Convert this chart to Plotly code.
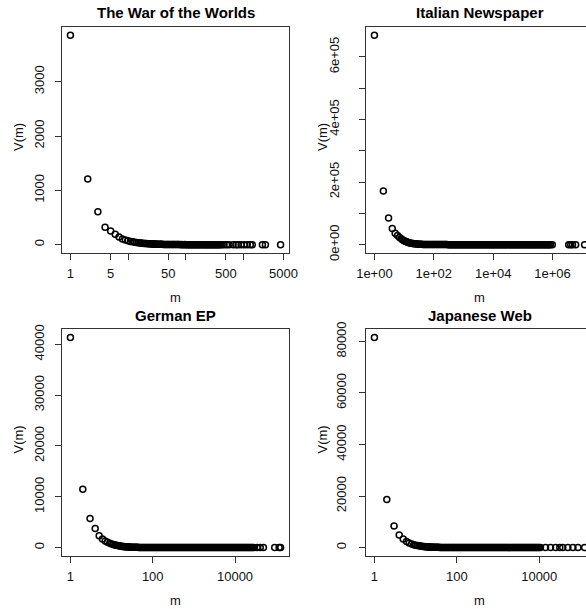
import math
import plotly.graph_objects as go

W, H = 586, 609

# ---------------- data (frequency spectra: m = frequency, V(m) = number of types) -------------
wotw_m = [1, 2, 3, 4, 5, 6, 7, 8, 9, 10,
          11, 12, 13, 14, 15, 16, 17, 18, 19, 20,
          21, 22, 23, 24, 25, 26, 27, 28, 29, 30,
          31, 32, 33, 35, 36, 38, 39, 41, 43, 45,
          47, 49, 51, 53, 56, 58, 61, 63, 66, 69,
          72, 75, 79, 82, 86, 90, 94, 98, 102, 107,
          112, 117, 122, 127, 133, 139, 145, 152, 159, 166,
          173, 181, 189, 198, 207, 216, 226, 236, 246, 257,
          269, 281, 294, 307, 321, 335, 350, 366, 382, 399,
          428, 464, 514, 568, 668, 754, 817, 922, 1042, 1175,
          1327, 1439, 2153, 2430, 4460]
wotw_v = [3852, 1211, 605, 322, 253, 190, 140, 105, 88, 72,
          60, 52, 45, 40, 36, 33, 30, 26, 24, 22,
          21, 19, 17, 16, 15, 13, 12, 11, 11, 10,
          9, 9, 8, 7, 7, 6, 6, 5, 5, 4,
          4, 4, 3, 3, 3, 3, 2, 3, 2, 2,
          2, 2, 2, 1, 2, 1, 1, 2, 1, 1,
          1, 1, 1, 1, 1, 1, 1, 1, 1, 1,
          1, 1, 1, 1, 1, 1, 1, 1, 1, 1,
          1, 1, 1, 1, 1, 1, 1, 1, 1, 1,
          1, 1, 1, 1, 1, 1, 1, 1, 1, 1,
          1, 1, 1, 1, 1]

ital_m = [1, 2, 3, 4, 5, 6, 7, 8, 9, 10,
          11, 12, 13, 14, 15, 16, 17, 19, 20, 22,
          24, 26, 28, 31, 33, 36, 39, 43, 47, 51,
          55, 60, 66, 71, 78, 85, 92, 100, 109, 119,
          130, 141, 154, 168, 183, 199, 217, 236, 257, 280,
          305, 332, 362, 394, 429, 467, 509, 554, 603, 657,
          715, 779, 848, 924, 1006, 1095, 1193, 1299, 1415, 1541,
          1678, 1827, 1990, 2167, 2360, 2570, 2798, 3047, 3318, 3614,
          3935, 4286, 4667, 5082, 5535, 6027, 6564, 7148, 7784, 8477,
          9231, 10050, 10950, 11920, 12980, 14140, 15400, 16770, 18260, 19880,
          21650, 23580, 25680, 27960, 30450, 33160, 36110, 39320, 42820, 46630,
          50780, 55300, 60220, 65580, 71420, 77780, 84700, 92240, 100400, 109400,
          119100, 129700, 141300, 153800, 167500, 182400, 198700, 216400, 235600, 256600,
          279400, 304300, 331400, 360900, 393000, 428000, 466100, 507600, 552700, 601900,
          655500, 713800, 777400, 846600, 980000, 3500000, 4100000, 4700000, 6000000, 12000000]
ital_v = [668800, 171700, 84900, 51400, 36700, 28900, 23000, 18500, 15000, 12500,
          10500, 9000, 7800, 6800, 6000, 5300, 4800, 3900, 3500, 2900,
          2450, 2100, 1850, 1500, 1300, 1100, 950, 780, 650, 560,
          480, 410, 340, 290, 240, 200, 170, 150, 125, 104,
          86, 72, 60, 50, 42, 35, 29, 24, 20, 17,
          14, 12, 10, 8, 7, 6, 5, 4, 4, 3,
          3, 2, 2, 2, 2, 1, 2, 1, 1, 1,
          1, 1, 1, 1, 1, 1, 1, 1, 1, 1,
          1, 1, 1, 1, 1, 1, 1, 1, 1, 1,
          1, 1, 1, 1, 1, 1, 1, 1, 1, 1,
          1, 1, 1, 1, 1, 1, 1, 1, 1, 1,
          1, 1, 1, 1, 1, 1, 1, 1, 1, 1,
          1, 1, 1, 1, 1, 1, 1, 1, 1, 1,
          1, 1, 1, 1, 1, 1, 1, 1, 1, 1,
          1, 1, 1, 1, 1, 1, 1, 1, 1, 1]

ger_m = [1, 2, 3, 4, 5, 6, 7, 8, 9, 10,
         11, 12, 13, 14, 15, 16, 17, 18, 19, 20,
         21, 22, 24, 25, 27, 28, 30, 32, 34, 36,
         38, 41, 43, 46, 49, 52, 55, 59, 62, 66,
         71, 75, 80, 85, 90, 96, 102, 109, 116, 123,
         131, 139, 148, 157, 167, 178, 189, 201, 214, 228,
         242, 258, 274, 292, 310, 330, 351, 373, 397, 423,
         450, 478, 509, 541, 576, 613, 652, 693, 738, 785,
         835, 888, 945, 1005, 1069, 1138, 1210, 1288, 1370, 1457,
         1550, 1649, 1755, 1867, 1986, 2113, 2248, 2391, 2544, 2707,
         2880, 3064, 3259, 3468, 3689, 3925, 4175, 4442, 4726, 5028,
         5349, 5690, 6054, 6440, 6852, 7289, 7755, 8250, 8777, 9337,
         9934, 10570, 11240, 11960, 12720, 13540, 14400, 15320, 16300, 17340,
         18450, 19630, 20880, 22210, 23630, 25140, 26750, 28460, 34500, 41000,
         49000, 92000, 118000, 128000]
ger_v = [41350, 11470, 5700, 3780, 2330, 1680, 1300, 1050, 860, 720,
         610, 520, 450, 390, 345, 305, 270, 240, 215, 195,
         180, 165, 140, 130, 112, 105, 92, 82, 72, 64,
         57, 50, 46, 40, 36, 32, 29, 26, 23, 21,
         18, 16, 15, 13, 12, 11, 10, 9, 8, 7,
         7, 6, 6, 5, 5, 4, 4, 4, 3, 3,
         3, 3, 2, 2, 2, 2, 2, 2, 2, 1,
         2, 1, 1, 2, 1, 1, 1, 1, 1, 1,
         1, 1, 1, 1, 1, 1, 1, 1, 1, 1,
         1, 1, 1, 1, 1, 1, 1, 1, 1, 1,
         1, 1, 1, 1, 1, 1, 1, 1, 1, 1,
         1, 1, 1, 1, 1, 1, 1, 1, 1, 1,
         1, 1, 1, 1, 1, 1, 1, 1, 1, 1,
         1, 1, 1, 1, 1, 1, 1, 1, 1, 1,
         1, 1, 1, 1]

jap_m = [1, 2, 3, 4, 5, 6, 7, 8, 9, 10,
         11, 12, 13, 14, 15, 16, 17, 18, 19, 20,
         21, 22, 24, 25, 27, 28, 30, 32, 34, 36,
         38, 41, 43, 46, 49, 52, 55, 59, 62, 66,
         71, 75, 80, 85, 90, 96, 102, 109, 116, 123,
         131, 139, 148, 157, 167, 178, 189, 201, 214, 228,
         242, 258, 274, 292, 310, 330, 351, 373, 397, 423,
         450, 478, 509, 541, 576, 613, 652, 693, 738, 785,
         835, 888, 945, 1005, 1069, 1138, 1210, 1288, 1370, 1457,
         1550, 1649, 1755, 1867, 1986, 2113, 2248, 2391, 2544, 2707,
         2880, 3064, 3259, 3468, 3689, 3925, 4175, 4442, 4726, 5028,
         5349, 5690, 6054, 6440, 6852, 7289, 7755, 8250, 8777, 9337,
         9934, 10700, 14200, 18800, 25000, 31500, 37200, 49500, 65600, 87000,
         126000]
jap_v = [81570, 18670, 8370, 4850, 3290, 2400, 1800, 1400, 1150, 950,
         800, 680, 590, 510, 450, 400, 355, 320, 290, 270,
         240, 220, 190, 175, 150, 140, 125, 110, 98, 88,
         78, 68, 62, 55, 48, 43, 39, 34, 31, 27,
         24, 21, 19, 17, 15, 13, 12, 11, 10, 9,
         8, 7, 7, 6, 6, 5, 5, 4, 4, 4,
         3, 3, 3, 3, 2, 2, 2, 2, 2, 2,
         2, 2, 1, 2, 1, 1, 1, 1, 1, 1,
         1, 1, 1, 1, 1, 1, 1, 1, 1, 1,
         1, 1, 1, 1, 1, 1, 1, 1, 1, 1,
         1, 1, 1, 1, 1, 1, 1, 1, 1, 1,
         1, 1, 1, 1, 1, 1, 1, 1, 1, 1,
         1, 1, 1, 1, 1, 1, 1, 1, 1, 1,
         1]

titles = ["The War of the Worlds", "Italian Newspaper", "German EP", "Japanese Web"]

wotw_xticks = [1, 5, 10, 50, 100, 500, 1000, 5000]
wotw_xlabels = ["1", "5", "", "50", "", "500", "", "5000"]
ital_xticks = [1, 100, 10000, 1000000]
ital_xlabels = ["1e+00", "1e+02", "1e+04", "1e+06"]
ger_xticks = [1, 100, 10000]
ger_xlabels = ["1", "100", "10000"]
jap_xticks = [1, 100, 10000]
jap_xlabels = ["1", "100", "10000"]

wotw_yticks = [0, 1000, 2000, 3000]
wotw_ylabels = ["0", "1000", "2000", "3000"]
ital_yticks = [0, 100000, 200000, 300000, 400000, 500000, 600000]
ital_ylabels = ["0e+00", "", "2e+05", "", "4e+05", "", "6e+05"]
ger_yticks = [0, 10000, 20000, 30000, 40000]
ger_ylabels = ["0", "10000", "20000", "30000", "40000"]
jap_yticks = [0, 20000, 40000, 60000, 80000]
jap_ylabels = ["0", "20000", "40000", "60000", "80000"]

# ---------------- layout geometry (pixels) ----------------
BOXW = 227
boxes = [  # left, top, bottom (right = left + BOXW, may run past the page)
    (62, 27, 253),
    (366, 27, 253),
    (62, 329, 556),
    (366, 329, 556),
]
ylab_standoff = [6, 15, 6, 8]

panels = [
    (wotw_m, wotw_v, wotw_xticks, wotw_xlabels, wotw_yticks, wotw_ylabels),
    (ital_m, ital_v, ital_xticks, ital_xlabels, ital_yticks, ital_ylabels),
    (ger_m, ger_v, ger_xticks, ger_xlabels, ger_yticks, ger_ylabels),
    (jap_m, jap_v, jap_xticks, jap_xlabels, jap_yticks, jap_ylabels),
]

TICKFONT = dict(family="Liberation Sans, Arial, sans-serif", size=13, color="#111")
LABFONT = dict(family="Liberation Sans, Arial, sans-serif", size=13, color="#111")
TITLEFONT = dict(family="Liberation Sans, Arial, sans-serif", size=15, color="#000")
LINEC = "#333"

fig = go.Figure()
annotations = []
for i, ((m, v, xt, xl, yt, yl), (bl, bt, bb)) in enumerate(zip(panels, boxes)):
    k = "" if i == 0 else str(i + 1)
    fig.add_trace(go.Scatter(
        x=m, y=v, mode="markers", xaxis="x" + k, yaxis="y" + k,
        marker=dict(symbol="circle-open", size=6, color="#000", line=dict(width=1.5, color="#000")),
        showlegend=False, hoverinfo="x+y"))

    lo = math.log10(min(m))
    hi = math.log10(max(m))
    pad = 0.04 * (hi - lo)
    full = (hi - lo) + 2 * pad
    br = bl + BOXW
    vis_r = min(br, W)
    x0 = lo - pad
    x1 = x0 + full * (vis_r - bl) / BOXW

    ylo, yhi = min(v), max(v)
    ypad = 0.04 * (yhi - ylo)

    right_cut = br > W
    fig.layout["xaxis" + k] = dict(
        type="log", range=[x0, x1], domain=[bl / W, vis_r / W], anchor="y" + k,
        automargin=False,
        showgrid=False, zeroline=False, showline=True, mirror=True, linecolor=LINEC, linewidth=1,
        ticks="outside", ticklen=6, tickcolor=LINEC, tickwidth=1,
        tickvals=xt, ticktext=xl, tickfont=TICKFONT, ticklabelstandoff=2)
    fig.layout["yaxis" + k] = dict(
        range=[ylo - ypad, yhi + ypad], domain=[1 - bb / H, 1 - bt / H], anchor="x" + k,
        automargin=False,
        showgrid=False, zeroline=False, showline=True, mirror=(not right_cut), linecolor=LINEC, linewidth=1,
        ticks="outside", ticklen=6, tickcolor=LINEC, tickwidth=1,
        tickvals=yt, ticktext=yl, tickangle=-90, tickfont=TICKFONT, ticklabelstandoff=ylab_standoff[i])

    cx = (bl + br) / 2
    cy = (bt + bb) / 2
    annotations.append(dict(text="<b>%s</b>" % titles[i], x=cx / W, y=1 - (bt - 14) / H,
                            xref="paper", yref="paper", xanchor="center", yanchor="middle",
                            showarrow=False, font=TITLEFONT))
    annotations.append(dict(text="m", x=cx / W, y=1 - (bb + 44) / H,
                            xref="paper", yref="paper", xanchor="center", yanchor="middle",
                            showarrow=False, font=LABFONT))
    annotations.append(dict(text="V(m)", x=(bl - 44) / W, y=1 - (cy - 3) / H, textangle=-90,
                            xref="paper", yref="paper", xanchor="center", yanchor="middle",
                            showarrow=False, font=LABFONT))

fig.update_layout(
    template="none",
    width=W, height=H, margin=dict(l=0, r=0, t=0, b=0, autoexpand=False),
    paper_bgcolor="white", plot_bgcolor="white",
    annotations=annotations, showlegend=False)

fig.write_html("out.html", config={"displayModeBar": False})
